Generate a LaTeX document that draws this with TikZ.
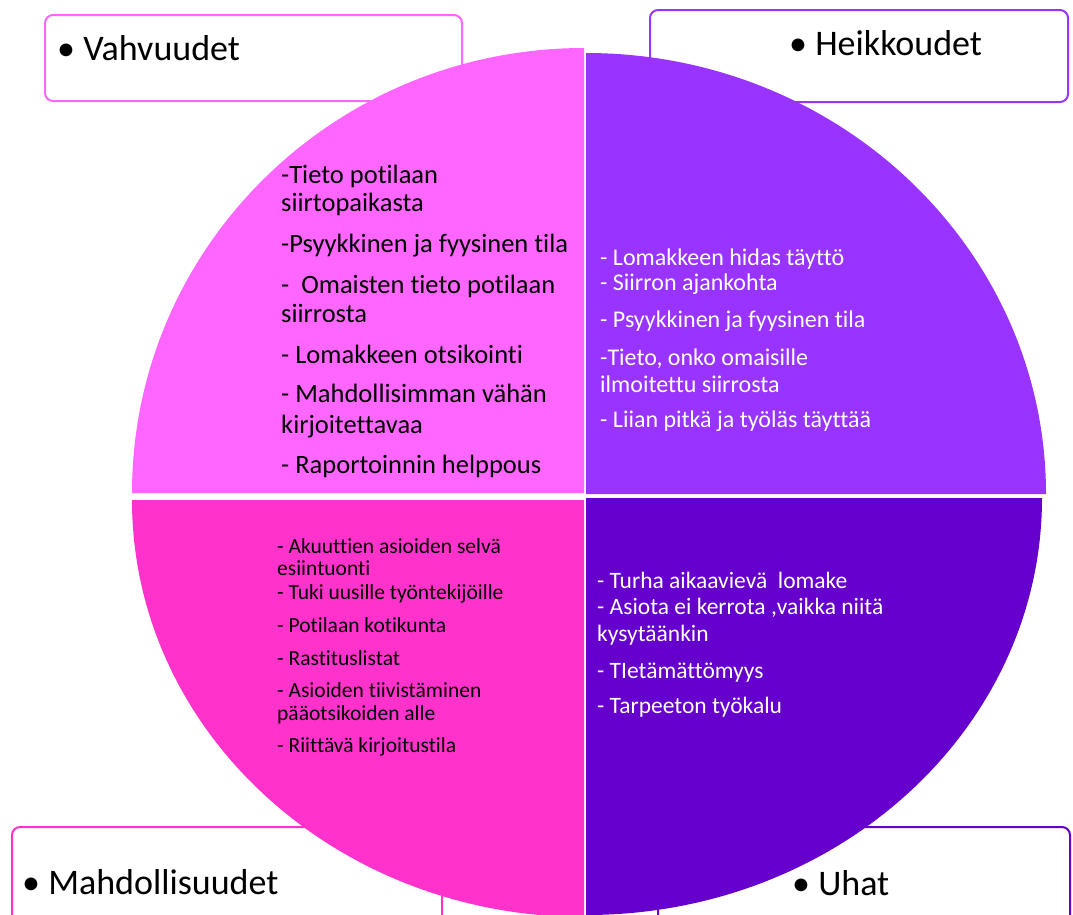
\documentclass[tikz,border=0pt]{standalone}
\usepackage{fontspec}
\setmainfont[RawFeature={-liga;-dlig;-clig;-calt}]{Carlito}
\definecolor{cTL}{HTML}{FF66FF}
\definecolor{cTR}{HTML}{9933FF}
\definecolor{cBL}{HTML}{FF33CC}
\definecolor{cBR}{HTML}{6600CC}
\begin{document}
\begin{tikzpicture}[x=1pt,y=-1pt,
  hbox/.style={line width=2pt, fill=white, rounded corners=8pt},
  head/.style={anchor=base west, inner sep=0pt, font=\fontsize{36}{40}\selectfont},
  tltext/.style={anchor=base west, inner sep=0pt, text=black, font=\fontsize{26.5}{28}\selectfont},
  trtext/.style={anchor=base west, inner sep=0pt, text=white, font=\fontsize{24}{25}\selectfont},
  bltext/.style={anchor=base west, inner sep=0pt, text=black, font=\fontsize{21.5}{23}\selectfont},
  brtext/.style={anchor=base west, inner sep=0pt, text=white, font=\fontsize{23.5}{25}\selectfont}]
\useasboundingbox (0,0) rectangle (1073,914);
\fill[white] (0,0) rectangle (1073,914);

% heading boxes (behind the circle)
\draw[hbox, draw=cTL] (45,15) rectangle (462,101);
\draw[hbox, draw=cTR] (650,10) rectangle (1068,102);
\draw[hbox, draw=cBL] (12,827) rectangle (442,960);
\draw[hbox, draw=cBR] (658,827) rectangle (1070,960);

\node[head] (vahv) at (57,60) {• Vahvuudet};
\node[head] (heik) at (789,55) {• Heikkoudet};
\node[head] (mahd) at (22,894) {• Mahdollisuudet};
\node[head] (uhat) at (792,895) {• Uhat};

% quadrants
\fill[cTL] (132,493) arc[start angle=180, end angle=90, x radius=452pt, y radius=445pt] -- (584,493) -- cycle;
\fill[cTR] (586,53) arc[start angle=90, end angle=0, x radius=460pt, y radius=441pt] -- (586,494) -- cycle;
\fill[cBL] (132,500) arc[start angle=180, end angle=270, x radius=452pt, y radius=417pt] -- (584,500) -- cycle;
\fill[cBR] (586,915) arc[start angle=270, end angle=360, x radius=456pt, y radius=417pt] -- (586,498) -- cycle;

% top-left text
\node[tltext] (tl1) at (281,183) {-Tieto potilaan};
\node[tltext] (tl2) at (281,211) {siirtopaikasta};
\node[tltext] (tl3) at (281,252) {-Psyykkinen ja fyysinen tila};
\node[tltext] (tl4) at (281,293) {-\ \ Omaisten tieto potilaan};
\node[tltext] (tl5) at (281,322) {siirrosta};
\node[tltext] (tl6) at (281,363) {- Lomakkeen otsikointi};
\node[tltext] (tl7) at (281,402) {- Mahdollisimman vähän};
\node[tltext] (tl8) at (281,433) {kirjoitettavaa};
\node[tltext] (tl9) at (281,473) {- Raportoinnin helppous};

% top-right text
\node[trtext] (tr1) at (600,265) {- Lomakkeen hidas täyttö};
\node[trtext] (tr2) at (600,290) {- Siirron ajankohta};
\node[trtext] (tr3) at (600,327) {- Psyykkinen ja fyysinen tila};
\node[trtext] (tr4) at (600,365) {-Tieto, onko omaisille};
\node[trtext] (tr5) at (600,392) {ilmoitettu siirrosta};
\node[trtext] (tr6) at (600,427) {- Liian pitkä ja työläs täyttää};

% bottom-left text
\node[bltext] (bl1) at (277,553) {- Akuuttien asioiden selvä};
\node[bltext] (bl2) at (277,575) {esiintuonti};
\node[bltext] (bl3) at (277,599) {- Tuki uusille työntekijöille};
\node[bltext] (bl4) at (277,632) {- Potilaan kotikunta};
\node[bltext] (bl5) at (277,665) {- Rastituslistat};
\node[bltext] (bl6) at (277,697) {- Asioiden tiivistäminen};
\node[bltext] (bl7) at (277,720) {pääotsikoiden alle};
\node[bltext] (bl8) at (277,752) {- Riittävä kirjoitustila};

% bottom-right text
\node[brtext] (br1) at (597,588) {- Turha aikaavievä\ \ lomake};
\node[brtext] (br2) at (597,614) {- Asiota ei kerrota ,vaikka niitä};
\node[brtext] (br3) at (597,641) {kysytäänkin};
\node[brtext] (br4) at (597,678) {- TIetämättömyys};
\node[brtext] (br5) at (597,713) {- Tarpeeton työkalu};
\end{tikzpicture}
\end{document}
